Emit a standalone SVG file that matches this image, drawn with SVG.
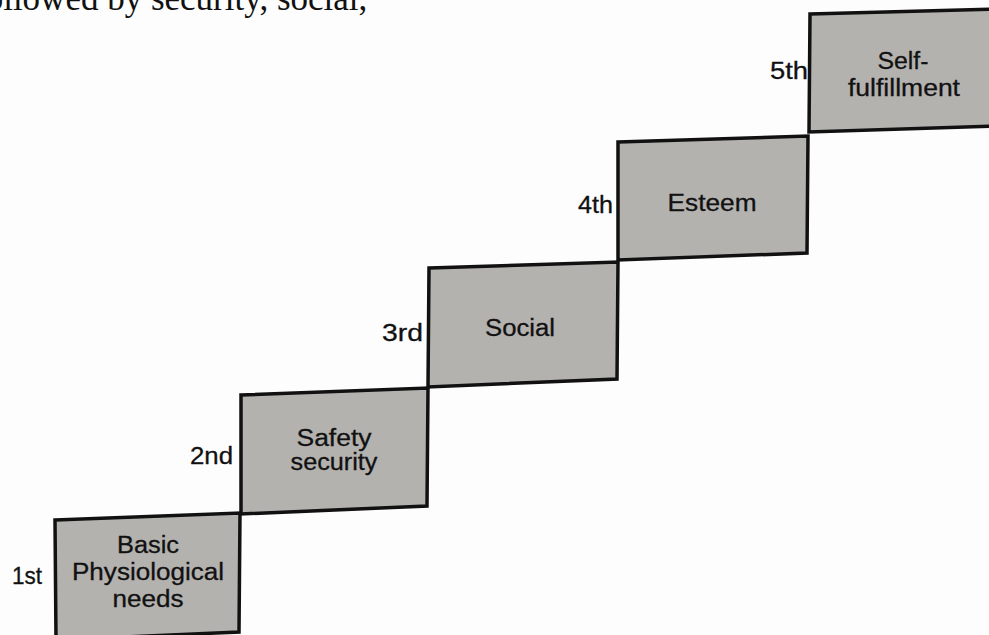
<svg xmlns="http://www.w3.org/2000/svg" width="989" height="635" viewBox="0 0 989 635">
  <style>
    .step { fill: #b4b2af; stroke: #111; stroke-width: 3.5; stroke-linejoin: miter; }
    .lbl { font-family: "Liberation Sans", Arial, sans-serif; font-size: 23.5px; fill: #111; stroke: #111; stroke-width: 0.3; text-anchor: middle; }
    .ord { font-family: "Liberation Sans", Arial, sans-serif; font-size: 23.5px; fill: #111; stroke: #111; stroke-width: 0.3; text-anchor: end; }
    .body { font-family: "Liberation Serif", "Times New Roman", serif; font-size: 35px; fill: #111; }
  </style>
  <rect width="989" height="635" fill="#fdfdfd"/>

  <!-- running text, clipped at the top edge -->
  <text class="body" x="-26" y="10">followed by security, social,</text>

  <!-- level 1 -->
  <g id="step1">
    <polygon class="step" points="55,520 240,513 239,632 56,640"/>
    <text class="ord" x="42" y="584" textLength="30" lengthAdjust="spacingAndGlyphs">1st</text>
    <text class="lbl" x="148" y="553" textLength="62" lengthAdjust="spacingAndGlyphs">Basic</text>
    <text class="lbl" x="148" y="580" textLength="152" lengthAdjust="spacingAndGlyphs">Physiological</text>
    <text class="lbl" x="148" y="607" textLength="71" lengthAdjust="spacingAndGlyphs">needs</text>
  </g>

  <!-- level 2 -->
  <g id="step2">
    <polygon class="step" points="241,395 428,388 427,506 241,514"/>
    <text class="ord" x="233" y="464" textLength="43" lengthAdjust="spacingAndGlyphs">2nd</text>
    <text class="lbl" x="334" y="446" textLength="75" lengthAdjust="spacingAndGlyphs">Safety</text>
    <text class="lbl" x="334" y="470" textLength="87" lengthAdjust="spacingAndGlyphs">security</text>
  </g>

  <!-- level 3 -->
  <g id="step3">
    <polygon class="step" points="429,268 618,262 617,379 428,387"/>
    <text class="ord" x="423" y="341" textLength="41" lengthAdjust="spacingAndGlyphs">3rd</text>
    <text class="lbl" x="520" y="336" textLength="70" lengthAdjust="spacingAndGlyphs">Social</text>
  </g>

  <!-- level 4 -->
  <g id="step4">
    <polygon class="step" points="618,142 808,136 807,253 618,260"/>
    <text class="ord" x="613" y="213" textLength="35" lengthAdjust="spacingAndGlyphs">4th</text>
    <text class="lbl" x="712" y="211" textLength="89" lengthAdjust="spacingAndGlyphs">Esteem</text>
  </g>

  <!-- level 5 -->
  <g id="step5">
    <polygon class="step" points="810,14 995,9 995,126 809,132"/>
    <text class="ord" x="808" y="79" textLength="38" lengthAdjust="spacingAndGlyphs">5th</text>
    <text class="lbl" x="903" y="69" textLength="51" lengthAdjust="spacingAndGlyphs">Self-</text>
    <text class="lbl" x="904" y="96" textLength="112" lengthAdjust="spacingAndGlyphs">fulfillment</text>
  </g>

  <g id="connectors"/>
</svg>
